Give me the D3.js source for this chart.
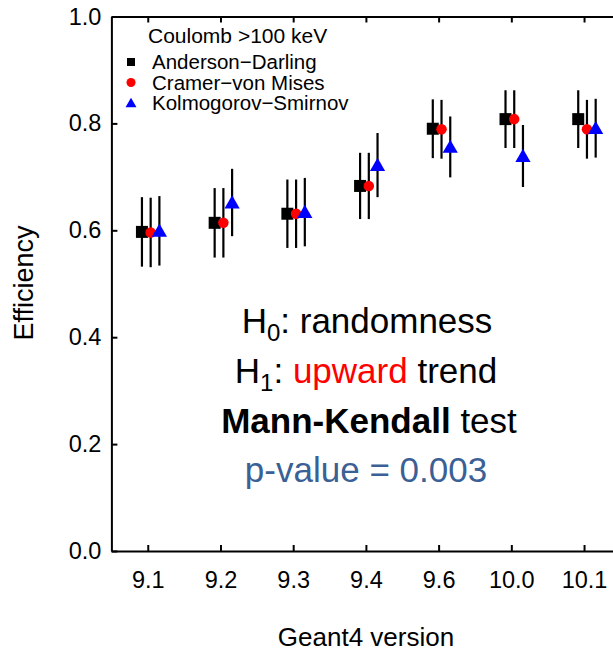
<!doctype html>
<html>
<head>
<meta charset="utf-8">
<style>
  body { margin: 0; background: #fff; }
  svg, svg text { font-family: "Liberation Sans", Arial, Helvetica, sans-serif; }
  .axis path, .axis line { stroke: #000; stroke-width: 2; }
  .axis text { font-size: 23.5px; fill: #000; font-family: "Liberation Sans", Arial, sans-serif; }
</style>
<script src="https://d3js.org/d3.v7.min.js"></script>
</head>
<body>
<svg width="613" height="651" id="chart"></svg>
<script>
// data
var versions = ["9.1", "9.2", "9.3", "9.4", "9.6", "10.0", "10.1"];
var yTicks = [0.0, 0.2, 0.4, 0.6, 0.8, 1.0];

var adEff = [0.597, 0.614, 0.631, 0.683, 0.790, 0.808, 0.808];
var adErr = [0.065, 0.065, 0.064, 0.062, 0.055, 0.054, 0.054];
var cvmEff = [0.596, 0.614, 0.631, 0.683, 0.789, 0.808, 0.789];
var cvmErr = [0.065, 0.065, 0.064, 0.062, 0.055, 0.054, 0.055];
var ksEff = [0.599, 0.652, 0.634, 0.722, 0.756, 0.739, 0.791];
var ksErr = [0.065, 0.063, 0.064, 0.060, 0.057, 0.058, 0.055];

var series = [
    { name: "Anderson\u2212Darling", eff: adEff, err: adErr, color: "#000", shape: "square", shift: -0.08 },
    { name: "Cramer\u2212von Mises", eff: cvmEff, err: cvmErr, color: "#ff0000", shape: "circle", shift: 0.04 },
    { name: "Kolmogorov\u2212Smirnov", eff: ksEff, err: ksErr, color: "#0000ff", shape: "triangle", shift: 0.16 }
];

var svg = d3.select("#chart"),
    plotLeft = 111.4, plotTop = 16.5, plotBottom = 551,
    plotRight = 620.4;

// x is in category units: version i sits at i + 1
var x = d3.scaleLinear().domain([0.5, 7.5]).range([plotLeft, plotRight]),
    y = d3.scaleLinear().domain([0, 1]).range([plotBottom, plotTop]);

var idx = versions.map(function(d, i) { return i + 1; });

svg.append("g")
   .attr("class", "axis")
   .attr("transform", "translate(0," + plotBottom + ")")
   .call(d3.axisBottom(x).tickValues(idx)
        .tickFormat(function(d) { return versions[d - 1]; })
        .tickSizeInner(-6).tickSizeOuter(0).tickPadding(20));

svg.append("g")
   .attr("class", "axis")
   .attr("transform", "translate(0," + plotTop + ")")
   .call(d3.axisTop(x).tickValues(idx).tickFormat("")
        .tickSizeInner(-6).tickSizeOuter(0));

svg.append("g")
   .attr("class", "axis")
   .attr("transform", "translate(" + plotLeft + ",0)")
   .call(d3.axisLeft(y).tickValues(yTicks).tickFormat(d3.format(".1f"))
        .tickSizeInner(-6).tickSizeOuter(0).tickPadding(10));

// axis titles
svg.append("text")
   .attr("x", 366)
   .attr("y", 646)
   .attr("text-anchor", "middle")
   .attr("font-size", "26px")
   .text("Geant4 version");

svg.append("text")
   .attr("transform", "translate(33,283) rotate(-90)")
   .attr("text-anchor", "middle")
   .attr("font-size", "27px")
   .text("Efficiency");

// points with error bars
var sym = {
    square: d3.symbol().type(d3.symbolSquare).size(144),
    circle: d3.symbol().type(d3.symbolCircle).size(87),
    triangle: d3.symbol().type(d3.symbolTriangle).size(100)
};

series.forEach(function(s) {
    var g = svg.append("g");
    var rows = s.eff.map(function(v, i) { return { v: v, e: s.err[i], i: i + 1 }; });

    g.selectAll("line")
     .data(rows)
     .enter().append("line")
     .attr("x1", function(d) { return x(d.i + s.shift); })
     .attr("x2", function(d) { return x(d.i + s.shift); })
     .attr("y1", function(d) { return y(d.v - d.e); })
     .attr("y2", function(d) { return y(d.v + d.e); })
     .attr("stroke", "#000")
     .attr("stroke-width", 2.2);

    g.selectAll("path")
     .data(rows)
     .enter().append("path")
     .attr("d", sym[s.shape])
     .attr("fill", s.color)
     .attr("transform", function(d) {
         var dy = s.shape == "triangle" ? 1.5 : 0;
         return "translate(" + x(d.i + s.shift) + "," + (y(d.v) + dy) + ")";
     });
});

// legend
var legend = svg.append("g");
legend.append("text")
      .attr("x", 148)
      .attr("y", 43)
      .attr("font-size", "21px")
      .text("Coulomb >100 keV");

var legSym = {
    square: d3.symbol().type(d3.symbolSquare).size(64),
    circle: d3.symbol().type(d3.symbolCircle).size(64),
    triangle: d3.symbol().type(d3.symbolTriangle).size(52)
};

series.forEach(function(s, i) {
    var cy = 62 + i * 20.5;
    legend.append("path")
          .attr("d", legSym[s.shape])
          .attr("fill", s.color)
          .attr("transform", "translate(131," + (cy + (s.shape == "triangle" ? 1 : 0)) + ")");
    legend.append("text")
          .attr("x", 152)
          .attr("y", cy + 7)
          .attr("font-size", "20.5px")
          .text(s.name);
});

// test annotation
var note = svg.append("g")
              .attr("text-anchor", "middle")
              .attr("font-size", "35px");

var l1 = note.append("text").attr("x", 367).attr("y", 333);
l1.append("tspan").text("H");
l1.append("tspan").attr("font-size", "24px").attr("dy", 8).text("0");
l1.append("tspan").attr("dy", -8).text(": randomness");

var l2 = note.append("text").attr("x", 366).attr("y", 383);
l2.append("tspan").text("H");
l2.append("tspan").attr("font-size", "24px").attr("dy", 8).text("1");
l2.append("tspan").attr("dy", -8).text(": ");
l2.append("tspan").attr("fill", "#ff0000").text("upward");
l2.append("tspan").text(" trend");

var l3 = note.append("text").attr("x", 369).attr("y", 433);
l3.append("tspan").attr("font-weight", "bold").text("Mann-Kendall");
l3.append("tspan").text(" test");

note.append("text")
    .attr("x", 366)
    .attr("y", 482)
    .attr("fill", "#3a6096")
    .text("p-value = 0.003");
</script>
</body>
</html>
